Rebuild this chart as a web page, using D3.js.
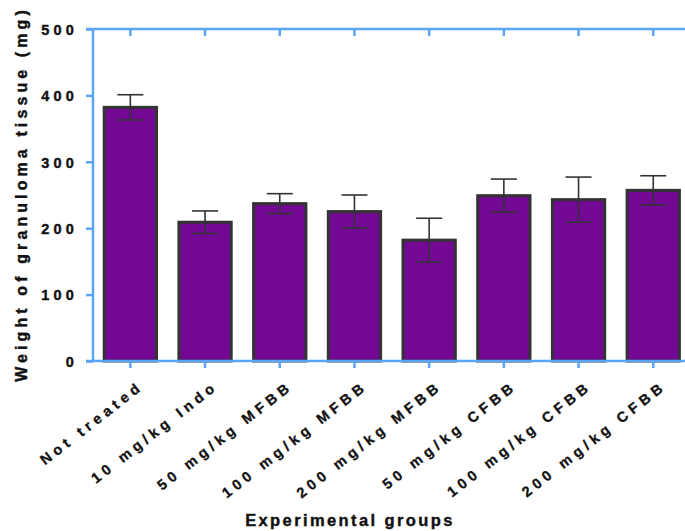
<!DOCTYPE html>
<html>
<head>
<meta charset="utf-8">
<script src="https://cdn.jsdelivr.net/npm/d3@7"></script>
<style>
  body { margin: 0; background: #fff; }
  svg text { font-family: "Liberation Sans", Arial, sans-serif; font-weight: bold; fill: #111; }
</style>
</head>
<body>
<svg id="chart" width="685" height="531"></svg>
<script>
// values
var groups = ["Not treated", "10 mg/kg Indo", "50 mg/kg MFBB", "100 mg/kg MFBB",
              "200 mg/kg MFBB", "50 mg/kg CFBB", "100 mg/kg CFBB", "200 mg/kg CFBB"];
var means = [382, 209, 237, 225, 182, 249, 243, 257];
var errors = [19, 17, 15, 25, 33, 25, 34, 22];
var yTicks = [0, 100, 200, 300, 400, 500];

var svg = d3.select('#chart');
// plot edges (note: "top" clashes with window.top, so prefixed names)
var plotLeft = 93, plotRight = 690.6, plotTop = 29, plotBottom = 361;
var axisColor = '#5aa5f7';

var x = d3.scaleBand().domain(groups).range([plotLeft, plotRight]).paddingInner(0.3).paddingOuter(0.15);
var y = d3.scaleLinear().domain([0, 500]).range([plotBottom, plotTop]);

// bars
svg.selectAll('rect.bar')
  .data(means).enter()
  .append('rect')
  .attr('class', 'bar')
  .attr('x', function (d, i) { return x(groups[i]); })
  .attr('y', function (d) { return y(d); })
  .attr('width', x.bandwidth())
  .attr('height', function (d) { return y(0) - y(d); })
  .attr('fill', '#730895')
  .attr('stroke', '#333')
  .attr('stroke-width', 3);

// error bars
var err = svg.append('g').attr('stroke', '#333').attr('stroke-width', 1.6);
means.forEach(function (m, i) {
  var cx = x(groups[i]) + x.bandwidth() / 2;
  err.append('line').attr('x1', cx).attr('x2', cx).attr('y1', y(m - errors[i])).attr('y2', y(m + errors[i]));
  [m - errors[i], m + errors[i]].forEach(function (v) {
    err.append('line').attr('x1', cx - 13).attr('x2', cx + 13).attr('y1', y(v)).attr('y2', y(v));
  });
});

// axes
function styleAxis(g) {
  g.select('.domain').remove();
  g.selectAll('.tick line').attr('stroke', axisColor).attr('stroke-width', 2.5);
}

var yAxis = svg.append('g').attr('transform', 'translate(' + plotLeft + ',0)')
  .call(d3.axisLeft(y).tickValues(yTicks).tickSize(7).tickPadding(8))
  .call(styleAxis);
yAxis.selectAll('text').attr('font-size', 14.5).style('letter-spacing', '4.2px').attr('dy', '0.36em')
  .attr('stroke', '#111').attr('stroke-width', 0.4);

svg.append('g').attr('transform', 'translate(' + plotRight + ',0)')
  .call(d3.axisLeft(y).tickValues(yTicks.slice(1, 5)).tickSize(-7))
  .call(styleAxis)
  .selectAll('text').remove();

svg.append('g').attr('transform', 'translate(0,' + plotTop + ')')
  .call(d3.axisBottom(x).tickSize(7))
  .call(styleAxis)
  .selectAll('text').remove();

var xAxis = svg.append('g').attr('transform', 'translate(0,' + plotBottom + ')')
  .call(d3.axisBottom(x).tickSize(7))
  .call(styleAxis);
xAxis.selectAll('text')
  .attr('font-size', 14.5)
  .style('letter-spacing', '4.5px')
  .attr('stroke', '#111').attr('stroke-width', 0.3)
  .attr('text-anchor', 'end')
  .attr('dy', 0)
  .attr('y', 0)
  .attr('transform', 'translate(14,27) rotate(-38)');

// frame lines
var frame = svg.append('g').attr('stroke', axisColor).attr('stroke-width', 2.5);
frame.append('line').attr('x1', plotLeft).attr('x2', plotLeft).attr('y1', plotTop).attr('y2', plotBottom);
frame.append('line').attr('x1', plotLeft - 7).attr('x2', 685).attr('y1', plotTop).attr('y2', plotTop);
frame.append('line').attr('x1', plotLeft - 7).attr('x2', 685).attr('y1', plotBottom).attr('y2', plotBottom);

// titles
svg.append('text')
  .attr('transform', 'translate(27,' + ((plotTop + plotBottom) / 2 - 1) + ') rotate(-90)')
  .attr('text-anchor', 'middle')
  .attr('font-size', 16)
  .attr('stroke', '#111').attr('stroke-width', 0.4)
  .style('letter-spacing', '4.1px')
  .text('Weight of granuloma tissue (mg)');

svg.append('text')
  .attr('x', 350).attr('y', 526)
  .attr('text-anchor', 'middle')
  .attr('font-size', 16.5)
  .attr('stroke', '#111').attr('stroke-width', 0.4)
  .style('letter-spacing', '2.4px')
  .text('Experimental groups');
</script>
</body>
</html>
